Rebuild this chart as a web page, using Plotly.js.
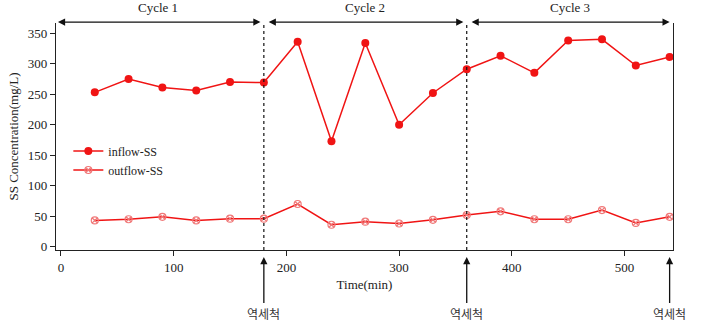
<!DOCTYPE html>
<html><head><meta charset="utf-8">
<script src="https://cdn.plot.ly/plotly-3.0.1.min.js"></script>
<style>body{margin:0;background:#fff}#c{width:701px;height:323px}</style>
</head><body><div id="c"></div>
<script>
const time = [30,60,90,120,150,180,210,240,270,300,330,360,390,420,450,480,510,540];
const inflowSS = [253,275,261,256,270,269,336,173,334,200,252,291,313,285,338,340,297,311];
const outflowSS = [43,45,49,43,46,46,70,36,41,38,44,52,58,45,45,60,39,49];
const cycleLabels = ['Cycle 1','Cycle 2','Cycle 3'];
const cycleStarts = [-4,183,363];
const cycleEnds = [177,357,540];
const backwashTimes = [180,360,540];
const backwashLabel = '역세척';
const xTicks = [0,100,200,300,400,500];
const yTicks = [0,50,100,150,200,250,300,350];

const RED = '#f01414';
const FONT = 'Liberation Serif, Times New Roman, serif';

const traces = [
  {x: time, y: inflowSS, name: 'inflow-SS', mode: 'lines+markers',
   line: {color: RED, width: 1.5}, marker: {color: RED, size: 8, symbol: 'circle'}},
  {x: time, y: outflowSS, name: 'outflow-SS', mode: 'lines+markers',
   line: {color: RED, width: 1.5}, marker: {color: '#f07878', size: 7, symbol: 'circle-x-open', line:{width:1.2}}}
];

const shapes = backwashTimes.slice(0,2).map(t => ({
  type: 'line', xref: 'x', yref: 'paper', x0: t, x1: t, y0: 0, y1: 1,
  line: {color: '#111', width: 1.2, dash: '3px,3px'}
}));

const annotations = [];
cycleLabels.forEach((lab, i) => {
  annotations.push({x: cycleEnds[i], y: 1.004, xref: 'x', yref: 'paper', ax: cycleStarts[i], ay: 0, axref: 'x', ayref: 'pixel',
    text: '', showarrow: true, arrowhead: 2, startarrowhead: 2, arrowside: 'end+start', arrowsize: 1.1, startarrowsize: 1.1, arrowwidth: 1.3, arrowcolor: '#111'});
  annotations.push({x: (cycleStarts[i] + cycleEnds[i]) / 2, y: 1, xref: 'x', yref: 'paper', yanchor: 'middle', yshift: 16, showarrow: false,
    text: lab, font: {family: FONT, size: 13, color: '#222'}});
});
backwashTimes.forEach(t => {
  annotations.push({x: t, y: -0.031, xref: 'x', yref: 'paper', ax: 0, ay: 56, showarrow: true,
    arrowhead: 2, arrowsize: 1.1, arrowwidth: 1.3, arrowcolor: '#111',
    text: backwashLabel, font: {family: 'Noto Sans CJK KR', size: 12, color: '#333'}});
});

const layout = {
  width: 701, height: 323,
  margin: {l: 56, r: 28, t: 23, b: 73},
  paper_bgcolor: '#fff', plot_bgcolor: '#fff',
  font: {family: FONT, size: 13, color: '#222'},
  showlegend: true,
  legend: {x: 0.02, y: 0.5, xanchor: 'left', yanchor: 'top', bgcolor: 'rgba(0,0,0,0)',
    font: {family: FONT, size: 12, color: '#222'}, itemwidth: 30, tracegroupgap: 0},
  xaxis: {range: [-4.4, 543], tickvals: xTicks, ticks: 'outside', ticklen: 5, tickcolor: '#222',
    showline: true, linecolor: '#222', linewidth: 1.2, showgrid: false, zeroline: false,
    title: {text: 'Time(min)', font: {family: FONT, size: 13}, standoff: 6},
    tickfont: {family: FONT, size: 13}},
  yaxis: {range: [-5.4, 366.7], tickvals: yTicks, ticks: 'outside', ticklen: 5, tickcolor: '#222',
    showline: true, linecolor: '#222', linewidth: 1.2, mirror: true, showgrid: false, zeroline: false,
    title: {text: 'SS Concentration(mg/L)', font: {family: FONT, size: 13}, standoff: 6},
    tickfont: {family: FONT, size: 13}},
  shapes: shapes,
  annotations: annotations
};
Plotly.newPlot('c', traces, layout, {displayModeBar: false, staticPlot: true});
</script></body></html>
